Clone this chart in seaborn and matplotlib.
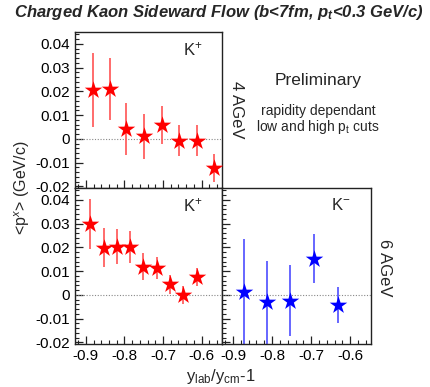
import matplotlib
matplotlib.use("Agg")
import matplotlib.pyplot as plt
import seaborn as sns
import numpy as np
import pandas as pd
from matplotlib.ticker import MultipleLocator

# ---- data ----
kp4_x = [-0.882, -0.838, -0.795, -0.749, -0.703, -0.659, -0.613, -0.569]
kp4_y = [0.0205, 0.0210, 0.0043, 0.0010, 0.0060, -0.0007, -0.0007, -0.0123]
kp4_e = [0.0155, 0.0130, 0.0110, 0.0095, 0.0080, 0.0065, 0.0065, 0.0060]

kp6_x = [-0.890, -0.854, -0.820, -0.785, -0.751, -0.715, -0.682, -0.649, -0.613]
kp6_y = [0.0298, 0.0199, 0.0203, 0.0200, 0.0119, 0.0112, 0.0045, 0.0000, 0.0074]
kp6_e = [0.0106, 0.0083, 0.0075, 0.0067, 0.0056, 0.0046, 0.0040, 0.0038, 0.0037]

km6_x = [-0.873, -0.812, -0.753, -0.692, -0.632]
km6_y = [0.0014, -0.0032, -0.0025, 0.0152, -0.0044]
km6_e = [0.0220, 0.0175, 0.0150, 0.0103, 0.0076]

x_ticks = [-0.9, -0.8, -0.7, -0.6]
x_ticklabels = ["-0.9", "-0.8", "-0.7", "-0.6"]
y_ticks = [-0.02, -0.01, 0, 0.01, 0.02, 0.03, 0.04]
y_ticklabels = ["-0.02", "-0.01", "0", "0.01", "0.02", "0.03", "0.04"]

sns.set_theme(style="white")
plt.rcParams['font.family'] = ['Liberation Sans', 'DejaVu Sans']
plt.rcParams['mathtext.fontset'] = 'custom'
plt.rcParams['mathtext.rm'] = 'Liberation Sans'
plt.rcParams['mathtext.it'] = 'Liberation Sans:italic'
plt.rcParams['mathtext.bf'] = 'Liberation Sans:bold:italic'

W, H = 430, 387
fig = plt.figure(figsize=(W / 100, H / 100), dpi=100)

def box(l, r, t, b):
    return [l / W, 1 - b / H, (r - l) / W, (b - t) / H]

ax1 = fig.add_axes(box(75, 222, 32, 188))
ax2 = fig.add_axes(box(75, 222, 188, 344))
ax3 = fig.add_axes(box(222, 371, 188, 344))

XL = (-0.928, -0.547)
YL = (-0.0207, 0.045)

def panel(ax, xs, ys, es, col, ecol, label, xlab=True, ylab=True):
    df = pd.DataFrame({"x": xs, "y": ys, "e": es})
    ax.axhline(0, color="#888888", lw=0.8, ls=(0, (1, 1.5)), zorder=1)
    ax.vlines(df["x"], df["y"] - df["e"], df["y"] + df["e"], color=ecol, lw=1.3, zorder=2)
    sns.scatterplot(data=df, x="x", y="y", ax=ax, marker="*", s=175, color=col,
                    edgecolor=col, linewidth=0, zorder=3, legend=False)
    ax.set_xlim(*XL)
    ax.set_ylim(*YL)
    ax.set_xticks(x_ticks)
    ax.set_yticks(y_ticks)
    ax.xaxis.set_minor_locator(MultipleLocator(0.02))
    ax.yaxis.set_minor_locator(MultipleLocator(0.002))
    ax.tick_params(which="major", direction="in", length=6, width=0.9, colors="#222222",
                   labelsize=11, labelcolor="black", bottom=True, left=True, top=False, right=False)
    ax.tick_params(which="minor", direction="in", length=3, width=0.8, colors="#222222",
                   bottom=True, left=True, top=False, right=False)
    ax.set_xlabel("")
    ax.set_ylabel("")
    ax.set_xticklabels(x_ticklabels if xlab else [])
    ax.set_yticklabels(y_ticklabels if ylab else [])
    for s in ax.spines.values():
        s.set_color("#222222")
        s.set_linewidth(1.0)
    ax.text(0.80, 0.89, label, transform=ax.transAxes, fontsize=12, ha="center", va="center")

panel(ax1, kp4_x, kp4_y, kp4_e, "#ff0000", "#ff6060", "K$^{+}$", xlab=False)
panel(ax2, kp6_x, kp6_y, kp6_e, "#ff0000", "#ff6060", "K$^{+}$")
panel(ax3, km6_x, km6_y, km6_e, "#0000ff", "#5a5aff", "K$^{-}$", ylab=False)

fig.text(14 / W, 1 - 12 / H, r"Charged Kaon Sideward Flow (b<7fm, p$_{\mathbf{t}}$<0.3 GeV/c)",
         fontsize=12, fontweight="bold", fontstyle="italic", ha="left", va="center")
fig.text(22 / W, 1 - 188 / H, "<p$^{x}$> (GeV/c)", rotation=90, fontsize=11.5,
         ha="center", va="center")
fig.text(221 / W, 1 - 376 / H, r"y$_{\mathrm{lab}}$/y$_{\mathrm{cm}}$-1", fontsize=12,
         ha="center", va="center")
fig.text(237 / W, 1 - 110 / H, "4 AGeV", rotation=-90, fontsize=12, ha="center", va="center")
fig.text(385 / W, 1 - 268 / H, "6 AGeV", rotation=-90, fontsize=12, ha="center", va="center")
fig.text(318 / W, 1 - 80 / H, "Preliminary", fontsize=12.5, ha="center", va="center")
fig.text(318 / W, 1 - 111 / H, "rapidity dependant", fontsize=10, ha="center", va="center")
fig.text(318 / W, 1 - 127 / H, r"low and high p$_{\mathrm{t}}$ cuts", fontsize=10,
         ha="center", va="center")

fig.savefig("out.png", dpi=100)
